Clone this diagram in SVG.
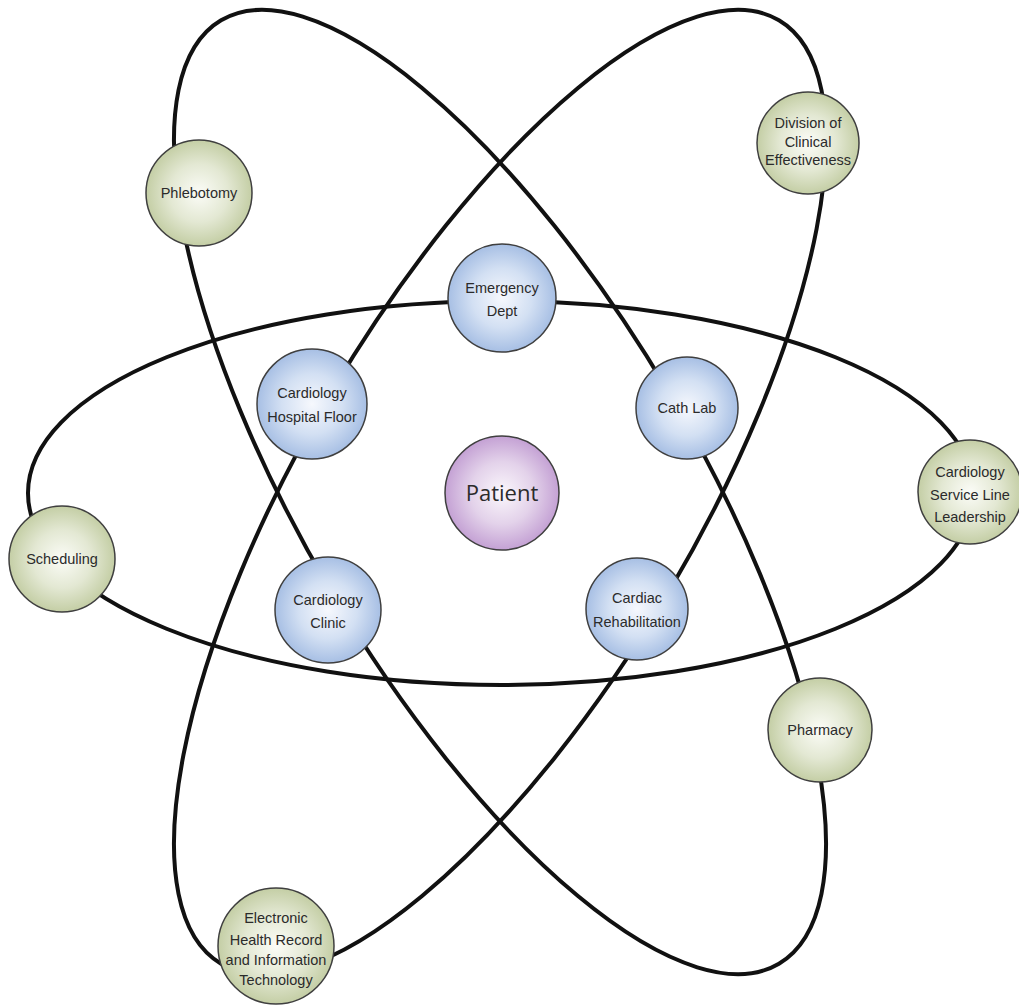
<svg xmlns="http://www.w3.org/2000/svg" width="1019" height="1005" viewBox="0 0 1019 1005">
<defs>
<radialGradient id="gGreen" cx="50%" cy="50%" r="50%"><stop offset="0" stop-color="#fbfcf7"/><stop offset="0.55" stop-color="#e3e8d3"/><stop offset="1" stop-color="#c4cea5"/></radialGradient>
<radialGradient id="gBlue" cx="50%" cy="50%" r="50%"><stop offset="0" stop-color="#f6f8fd"/><stop offset="0.55" stop-color="#d3e0f3"/><stop offset="1" stop-color="#a7bfe4"/></radialGradient>
<radialGradient id="gPurple" cx="50%" cy="50%" r="50%"><stop offset="0" stop-color="#fbf7fc"/><stop offset="0.55" stop-color="#e3d2ea"/><stop offset="1" stop-color="#c4a1d4"/></radialGradient>
</defs>
<style>
.orbit{fill:none;stroke:#111;stroke-width:4}
.green{fill:url(#gGreen);stroke:#3f3f3f;stroke-width:1.5}
.blue{fill:url(#gBlue);stroke:#3f3f3f;stroke-width:1.5}
.purple{fill:url(#gPurple);stroke:#3f3f3f;stroke-width:1.5}
text{font-family:"Liberation Sans",Arial,sans-serif;font-size:14.5px;fill:#2b2b2b;text-anchor:middle}
.big{font-family:"Open Sans","Liberation Sans",sans-serif;font-size:22px;fill:#2b2b2b}
</style>
<rect width="1019" height="1005" fill="#ffffff"/>
<g id="connectors">
<ellipse class="orbit" cx="501" cy="493" rx="473" ry="192"/>
<ellipse class="orbit" cx="500" cy="492" rx="548" ry="196" transform="rotate(59.4 500 492)"/>
<ellipse class="orbit" cx="500" cy="492" rx="548" ry="196" transform="rotate(-59.4 500 492)"/>
</g>
<g id="phlebotomy"><circle class="green" cx="199" cy="193" r="53"/><text x="199" y="198">Phlebotomy</text></g>
<g id="division"><circle class="green" cx="808" cy="143" r="51"/><text x="808" y="128">Division of</text><text x="808" y="147">Clinical</text><text x="808" y="165">Effectiveness</text></g>
<g id="emergency"><circle class="blue" cx="502" cy="298" r="54"/><text x="502" y="293">Emergency</text><text x="502" y="316">Dept</text></g>
<g id="hospital-floor"><circle class="blue" cx="312" cy="404" r="55"/><text x="312" y="398">Cardiology</text><text x="312" y="422">Hospital Floor</text></g>
<g id="cath-lab"><circle class="blue" cx="687" cy="408" r="51"/><text x="687" y="413">Cath Lab</text></g>
<g id="patient"><circle class="purple" cx="502" cy="493" r="57"/><text class="big" x="502" y="501">Patient</text></g>
<g id="clinic"><circle class="blue" cx="328" cy="610" r="53"/><text x="328" y="605">Cardiology</text><text x="328" y="628">Clinic</text></g>
<g id="rehab"><circle class="blue" cx="637" cy="609" r="51"/><text x="637" y="603">Cardiac</text><text x="637" y="627">Rehabilitation</text></g>
<g id="scheduling"><circle class="green" cx="62" cy="559" r="53"/><text x="62" y="564">Scheduling</text></g>
<g id="leadership"><circle class="green" cx="970" cy="492" r="52"/><text x="970" y="477">Cardiology</text><text x="970" y="500">Service Line</text><text x="970" y="522">Leadership</text></g>
<g id="pharmacy"><circle class="green" cx="820" cy="730" r="52"/><text x="820" y="735">Pharmacy</text></g>
<g id="ehr"><circle class="green" cx="276" cy="946" r="58"/><text x="276" y="923">Electronic</text><text x="276" y="945">Health Record</text><text x="276" y="965">and Information</text><text x="276" y="985">Technology</text></g>
</svg>
